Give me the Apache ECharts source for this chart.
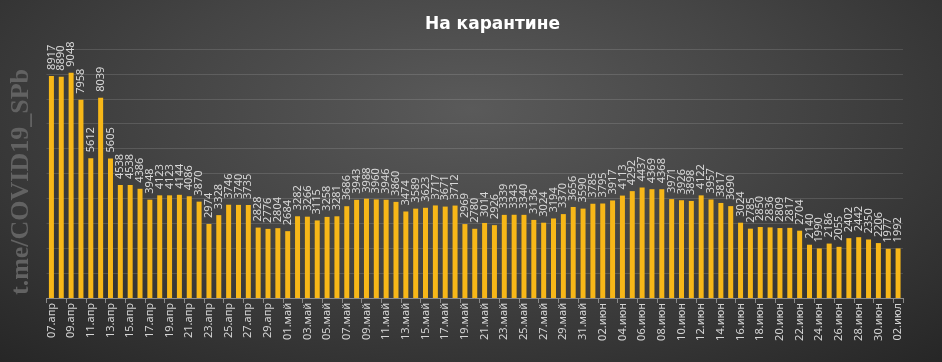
<!DOCTYPE html>
<html>
<head>
<meta charset="utf-8">
<script src="https://cdn.jsdelivr.net/npm/echarts@6/dist/echarts.min.js"></script>
<style>
html,body{margin:0;padding:0;}
body{width:942px;height:362px;background:radial-gradient(ellipse 75% 95% at 50% 30%, #5a5a5a 0%, #444 45%, #262626 100%);}
#c{width:942px;height:362px;}
</style>
</head>
<body>
<div id="c"></div>
<script>
const aprDays = ['07','08','09','10','11','12','13','14','15','16','17','18','19','20','21','22','23','24','25','26','27','28','29','30'];
const aprValues = [8917,8890,9048,7958,5612,8039,5605,4538,4538,4386,3948,4123,4123,4144,4086,3870,2974,3328,3746,3740,3735,2828,2776,2804];
const mayValues = [2684,3282,3266,3115,3258,3281,3686,3943,3988,3960,3946,3860,3474,3589,3623,3717,3671,3712,2969,2780,3014,2926,3339,3343,3340,3136,3024,3194,3370,3656,3590];
const junValues = [3785,3795,3917,4113,4292,4437,4369,4368,3971,3926,3898,4122,3957,3817,3690,3024,2785,2850,2836,2809,2817,2704,2140,1990,2186,2055,2402,2442,2350,2206];
const julValues = [1977,1992];
const title = 'На карантине';
const watermark = 't.me/COVID19_SPb';

function pad(n){return (n<10?'0':'')+n;}
const categories = [];
aprDays.forEach(d => categories.push(d + '.апр'));
for (let i=1;i<=31;i++) categories.push(pad(i)+'.май');
for (let i=1;i<=30;i++) categories.push(pad(i)+'.июн');
for (let i=1;i<=2;i++) categories.push(pad(i)+'.июл');
const values = aprValues.concat(mayValues, junValues, julValues);

const chart = echarts.init(document.getElementById('c'));
chart.setOption({
  backgroundColor: 'transparent',
  animation: false,
  title: {
    text: title,
    left: 420, top: 11,
    textStyle: {color: '#ffffff', fontFamily: 'DejaVu Sans', fontWeight: 'bold', fontSize: 17}
  },
  graphic: [{
    type: 'text',
    x: 34, y: 295,
    rotation: Math.PI/2,
    style: {text: watermark, fill: '#626262', fontFamily: 'Liberation Serif', fontWeight: 'bold', fontSize: 26, textAlign: 'left', textVerticalAlign: 'bottom'}
  }],
  grid: {left: 46.5, right: 39, top: 49, bottom: 64},
  xAxis: {
    type: 'category',
    data: categories,
    axisLine: {lineStyle: {color: '#8a8a8a'}},
    axisTick: {show: true, interval: 1, length: 5, lineStyle: {color: '#8a8a8a'}},
    axisLabel: {interval: 1, rotate: 90, color: '#d4d4d4', fontFamily: 'Noto Sans', fontSize: 11, margin: 5}
  },
  yAxis: {
    type: 'value', min: 0, max: 10000, interval: 1000,
    axisLabel: {show: false},
    axisLine: {show: false}, axisTick: {show: false},
    splitLine: {lineStyle: {color: 'rgba(255,255,255,0.13)', width: 1}}
  },
  series: [{
    type: 'bar',
    data: values,
    barWidth: 5,
    itemStyle: {color: '#f7b718'},
    label: {
      show: true, position: 'top', rotate: 90, distance: 6,
      align: 'left', verticalAlign: 'middle',
      color: '#d8d8d8', fontFamily: 'Noto Sans', fontSize: 11
    }
  }]
});
</script>
</body>
</html>
